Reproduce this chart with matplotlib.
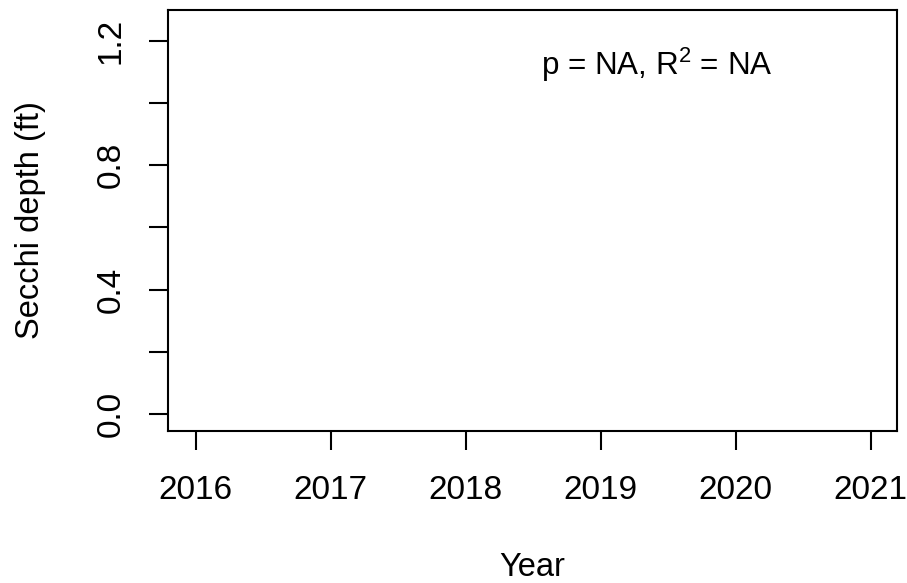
import matplotlib
matplotlib.use("Agg")
import matplotlib.pyplot as plt

plt.rcParams["font.family"] = ["Liberation Sans", "DejaVu Sans"]
plt.rcParams["mathtext.fontset"] = "custom"
plt.rcParams["mathtext.rm"] = "Liberation Sans"
plt.rcParams["mathtext.it"] = "Liberation Sans"

# no observations for this site, so the series is empty
years = []
secchi = []

xticks = [2016, 2017, 2018, 2019, 2020, 2021]
yticks = [0.0, 0.2, 0.4, 0.6, 0.8, 1.0, 1.2]
ylabels = ["0.0", "", "0.4", "", "0.8", "", "1.2"]
stat_text = "p = NA, R$^2$ = NA"

fig = plt.figure(figsize=(9.07, 5.83), dpi=100)
ax = fig.add_axes([0.1847, 0.2612, 0.8043, 0.7216])

ax.plot(years, secchi, "o", color="black")
ax.set_xlim(2015.79, 2021.196)
ax.set_ylim(-0.053, 1.298)

ax.set_xticks(xticks)
ax.set_xticklabels([str(y) for y in xticks])
ax.set_yticks(yticks)
ax.set_yticklabels(ylabels, rotation=90, va="center")

for s in ax.spines.values():
    s.set_linewidth(1.5)
ax.tick_params(axis="both", length=13.7, width=1.5, labelsize=24, colors="black")
ax.tick_params(axis="x", pad=18)
ax.tick_params(axis="y", pad=16)

ax.text(2019.414, 1.089, stat_text, ha="center", va="baseline", fontsize=22.6)

fig.text(532 / 907, 7 / 583, "Year", ha="center", va="baseline", fontsize=23.5)
fig.text(30 / 907, 0.6220, "Secchi depth (ft)", ha="center", va="center",
         rotation=90, fontsize=23.5)

fig.savefig("out.png", dpi=100)
